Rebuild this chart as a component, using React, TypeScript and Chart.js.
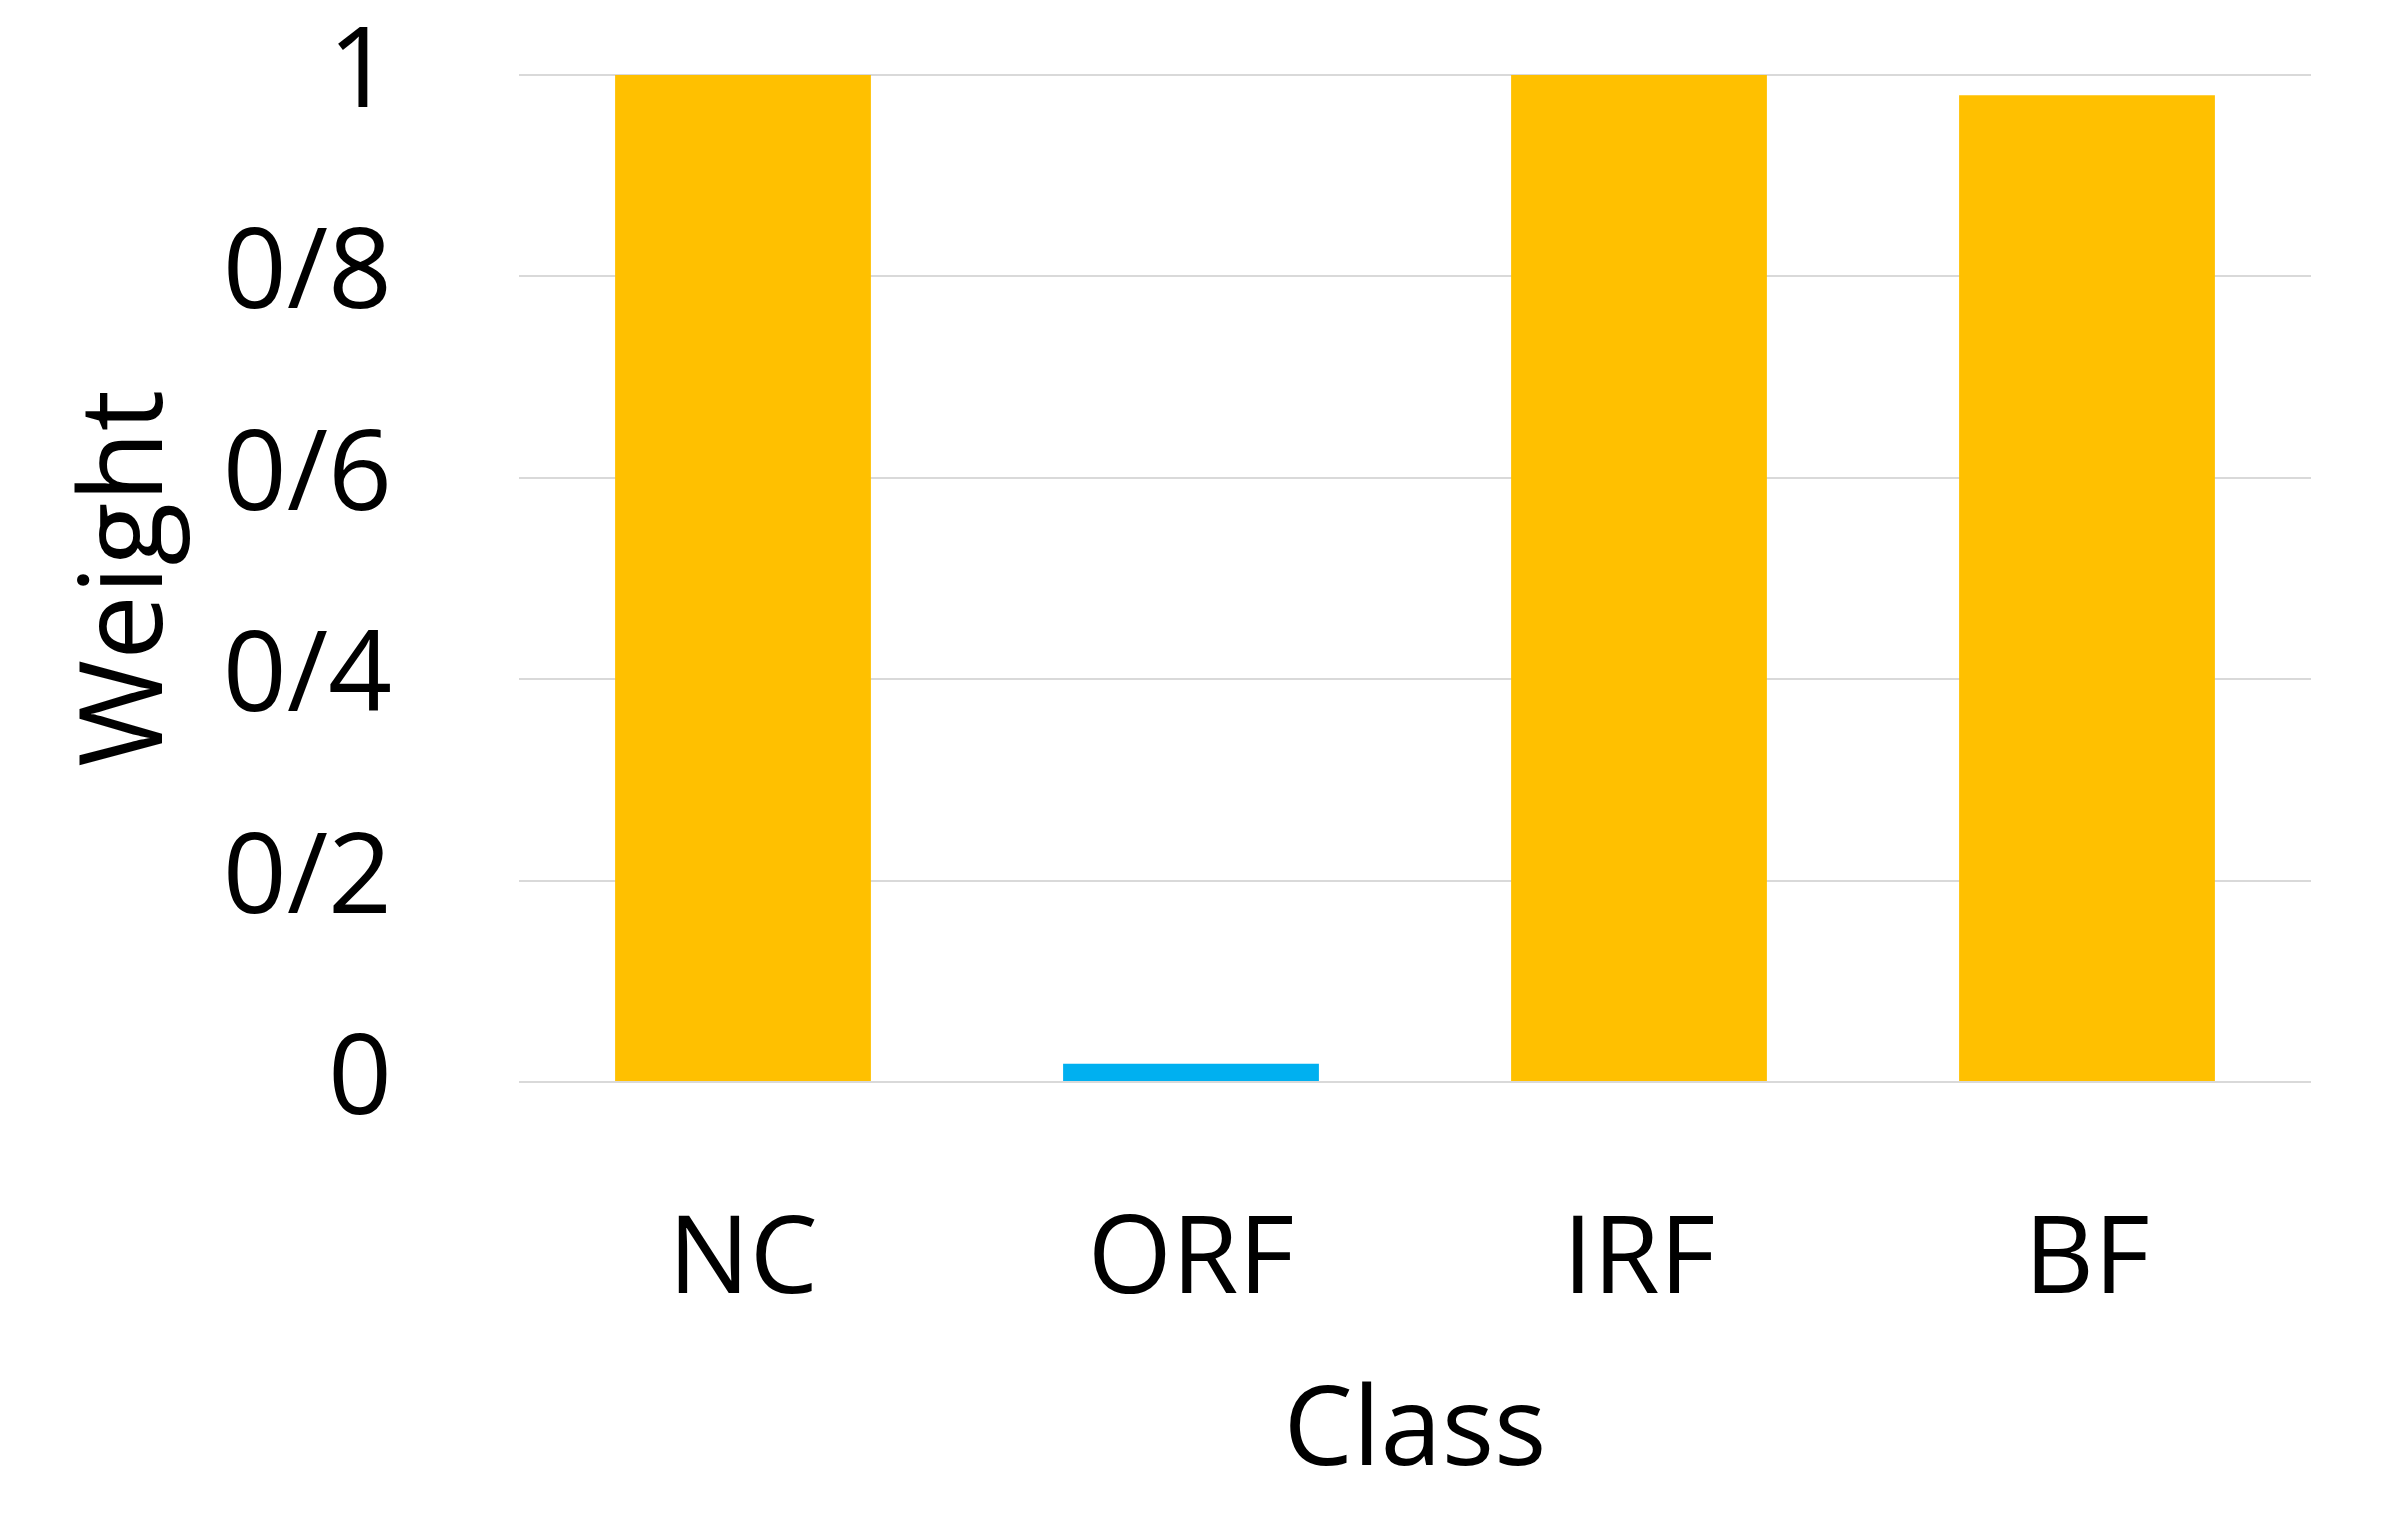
import React, { useEffect, useRef } from "react";
import { Chart, registerables } from "chart.js";

Chart.register(...registerables);

const categories = ["NC", "ORF", "IRF", "BF"];
const weights = [1.0, 0.018, 1.0, 0.98];
const barColors = ["#FFC000", "#00B0F0", "#FFC000", "#FFC000"];
const yTickValues = [0, 0.2, 0.4, 0.6, 0.8, 1];
const yTickLabels = ["0", "0/2", "0/4", "0/6", "0/8", "1"];
const xTitle = "Class";
const yTitle = "Weight";

const FONT = "'Open Sans', 'Noto Sans', sans-serif";

export default function App() {
  const ref = useRef<HTMLCanvasElement | null>(null);

  useEffect(() => {
    document.body.style.margin = "0";
    const canvas = ref.current;
    if (!canvas) return;
    const chart = new Chart(canvas, {
      type: "bar",
      data: {
        labels: categories,
        datasets: [
          {
            label: yTitle,
            data: weights,
            backgroundColor: barColors,
            borderWidth: 0,
            barPercentage: 0.571,
            categoryPercentage: 1,
          },
        ],
      },
      options: {
        animation: false,
        responsive: false,
        maintainAspectRatio: false,
        layout: { padding: { left: 59, right: 81, top: 75, bottom: 0 } },
        plugins: { legend: { display: false }, tooltip: { enabled: false } },
        scales: {
          x: {
            grid: { display: false, drawTicks: false },
            border: { display: false },
            ticks: {
              color: "#000",
              font: { family: FONT, size: 108 },
              padding: 115,
              maxRotation: 0,
            },
            title: {
              display: true,
              text: xTitle,
              color: "#000",
              font: { family: FONT, size: 110 },
              padding: { top: 0, bottom: 26 },
            },
            afterFit: (s: any) => {
              s.height = 444;
              s.paddingLeft = 0;
              s.paddingRight = 0;
            },
          },
          y: {
            min: 0,
            max: 1,
            afterBuildTicks: (s: any) => {
              s.ticks = yTickValues.map((v) => ({ value: v }));
            },
            grid: { color: "#D9D9D9", lineWidth: 2, drawTicks: false },
            border: { display: false },
            ticks: {
              color: "#000",
              font: { family: FONT, size: 112 },
              padding: 127,
              callback: (v: any) => {
                const i = yTickValues.findIndex((t) => Math.abs(t - Number(v)) < 1e-6);
                return i >= 0 ? yTickLabels[i] : "";
              },
            },
            title: {
              display: true,
              text: yTitle,
              color: "#000",
              font: { family: FONT, size: 116 },
              padding: { top: 0, bottom: 0 },
            },
            afterFit: (s: any) => {
              s.width = 460;
              s.paddingTop = 0;
              s.paddingBottom = 0;
            },
          },
        },
      },
    });
    return () => chart.destroy();
  }, []);

  return (
    <div style={{ width: 2392, height: 1526, background: "#fff" }}>
      <canvas ref={ref} width={2392} height={1526} style={{ display: "block" }} />
    </div>
  );
}
